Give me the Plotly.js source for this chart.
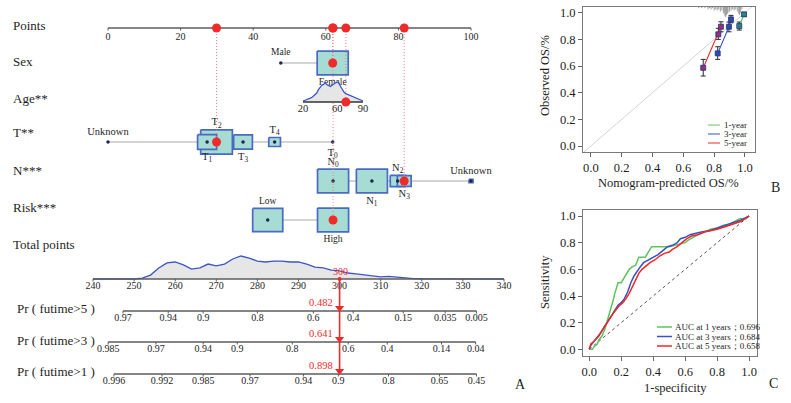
<!DOCTYPE html>
<html><head><meta charset="utf-8">
<script src="https://cdn.plot.ly/plotly-3.0.1.min.js"></script>
<style>html,body{margin:0;padding:0;background:#fff}</style>
</head><body><div id="chart" style="width:791px;height:403px"></div>
<script>
// ================= DATA =================
// Nomogram (panel A)
const pointsTicks = [0, 20, 40, 60, 80, 100];
const sexLabels = ['Male', 'Female'];
const sexPoints = [47.6, 61.9];
const sexRelFreq = [0, 0.96];
const ageTicks = [20, 60, 90];
const ageDensX = [20,25,28,31,34,36,38,40,42,44,46,48,50,52,54,56,58,60,62,64,66,68,70,72,75,78,81,84,87,90];
const ageDensY = [0.05,0.12,0.18,0.25,0.35,0.45,0.62,0.74,0.84,0.88,0.96,0.86,0.8,0.78,0.84,0.92,0.96,1.0,0.93,0.76,0.6,0.48,0.42,0.38,0.33,0.29,0.22,0.15,0.1,0.05];
const tLabels = ['Unknown', 'T<sub>1</sub>', 'T<sub>2</sub>', 'T<sub>3</sub>', 'T<sub>4</sub>', 'T<sub>0</sub>'];
const tPoints = [0, 27.3, 29.9, 37.2, 45.9, 61.9];
const tRelFreq = [0, 0.36, 1.0, 0.35, 0.136, 0];
const nLabels = ['N<sub>0</sub>', 'N<sub>1</sub>', 'N<sub>2</sub>', 'N<sub>3</sub>', 'Unknown'];
const nPoints = [62, 72.7, 79.8, 81.6, 100];
const nRelFreq = [0.96, 0.96, 0.22, 0.19, 0.016];
const riskLabels = ['Low', 'High'];
const riskPoints = [44, 62];
const riskRelFreq = [0.9, 0.96];
const totalTicks = [240, 250, 260, 270, 280, 290, 300, 310, 320, 330, 340];
const totalDensX = [240,250,252,254,256,258,260,262,264,266,268,270,272,274,276,278,280,282,284,286,288,290,292,294,296,298,300,302,304,306,308,310,312,314,316,318,320,325,330,340];
const totalDensY = [0,0,0.04,0.17,0.48,0.7,0.74,0.61,0.43,0.48,0.65,0.57,0.65,0.87,1.0,0.91,0.78,0.74,0.78,0.78,0.74,0.74,0.65,0.52,0.48,0.39,0.35,0.26,0.22,0.17,0.13,0.09,0.11,0.07,0.04,0.02,0.01,0.01,0,0];
const pr5Labels = ['0.97','0.94','0.9','0.8','0.6','0.4','0.15','0.035','0.005'];
const pr5Total  = [247.3, 258.3, 266.8, 280.0, 293.6, 303.3, 315.5, 325.7, 333.3];
const pr3Labels = ['0.985','0.97','0.94','0.9','0.8','0.6','0.4','0.14','0.04'];
const pr3Total  = [243.7, 255.3, 266.8, 275.1, 288.5, 302.1, 311.6, 324.8, 333.1];
const pr1Labels = ['0.996','0.992','0.985','0.97','0.94','0.9','0.8','0.65','0.45'];
const pr1Total  = [245.1, 256.8, 266.8, 278.2, 291.2, 299.7, 311.9, 324.3, 333.3];
// selected patient
const selSex = 1, selAge = 70, selT = 2, selN = 3, selRisk = 1;
const totalScore = 300;
const predProbs = ['0.482', '0.641', '0.898'];

// Calibration (panel B)
const calNames = ['1-year', '3-year', '5-year'];
const cal1X = [0.963, 0.994], cal1Y = [0.900, 0.988], cal1Hi = [0.930, 1.000], cal1Lo = [0.870, 0.972];
const cal3X = [0.823, 0.896, 0.909], cal3Y = [0.695, 0.895, 0.950], cal3Hi = [0.745, 0.930, 0.980], cal3Lo = [0.650, 0.857, 0.925];
const cal5X = [0.729, 0.827, 0.844], cal5Y = [0.587, 0.838, 0.895], cal5Hi = [0.650, 0.883, 0.932], cal5Lo = [0.525, 0.800, 0.857];
const riskX = [0.70,0.72,0.74,0.76,0.77,0.78,0.79,0.80,0.81,0.82,0.83,0.84,0.85,0.86,0.865,0.87,0.875,0.88,0.885,0.89,0.90,0.91,0.92,0.93,0.94,0.95,0.96,0.965,0.97,0.98];
const riskCount = [1,1,1,2,1,2,1,3,2,3,2,4,3,5,6,8,9,7,6,5,4,3,2,3,2,4,6,7,5,2];

// ROC (panel C)
const rocNames = ['AUC at 1 years；0.696', 'AUC at 3 years；0.684', 'AUC at 5 years；0.658'];
const roc1X = [0,0.02,0.03,0.05,0.06,0.08,0.10,0.11,0.12,0.13,0.14,0.15,0.16,0.17,0.18,0.20,0.21,0.23,0.24,0.25,0.27,0.29,0.30,0.31,0.35,0.37,0.39,0.50,0.53,0.56,0.60,0.62,0.65,0.68,0.72,0.76,0.80,0.84,0.88,0.91,0.94,0.98,1.0];
const roc1Y = [0,0,0.02,0.04,0.07,0.10,0.16,0.20,0.25,0.28,0.33,0.37,0.42,0.47,0.50,0.50,0.52,0.55,0.57,0.60,0.62,0.63,0.66,0.69,0.69,0.73,0.77,0.77,0.78,0.79,0.80,0.82,0.84,0.86,0.88,0.90,0.91,0.93,0.94,0.96,0.98,0.98,1.0];
const roc3X = [0,0.01,0.03,0.06,0.08,0.10,0.12,0.14,0.16,0.18,0.20,0.22,0.24,0.26,0.28,0.30,0.32,0.34,0.37,0.40,0.43,0.46,0.49,0.52,0.55,0.57,0.60,0.63,0.66,0.70,0.75,0.80,0.85,0.90,0.95,1.0];
const roc3Y = [0,0.03,0.06,0.10,0.14,0.18,0.22,0.26,0.30,0.33,0.35,0.38,0.43,0.50,0.55,0.59,0.62,0.65,0.67,0.69,0.71,0.74,0.77,0.78,0.80,0.83,0.84,0.86,0.87,0.88,0.89,0.91,0.93,0.95,0.97,1.0];
const roc5X = [0,0.01,0.03,0.05,0.07,0.09,0.11,0.13,0.15,0.17,0.19,0.21,0.23,0.25,0.27,0.29,0.31,0.33,0.36,0.38,0.41,0.44,0.47,0.50,0.52,0.55,0.58,0.61,0.64,0.68,0.72,0.76,0.80,0.85,0.90,0.95,1.0];
const roc5Y = [0,0.04,0.06,0.09,0.12,0.16,0.20,0.24,0.27,0.30,0.33,0.35,0.38,0.42,0.47,0.52,0.57,0.60,0.63,0.65,0.67,0.70,0.72,0.73,0.75,0.77,0.80,0.83,0.85,0.86,0.88,0.89,0.90,0.92,0.94,0.96,1.0];

// ================= LAYOUT / STYLE =================
const W = 791, H = 403;
const FONT = 'Liberation Serif, "Times New Roman", serif';
const TXT = '#1e1e1e';
const BOX_FILL = '#a6dcd3', BOX_LINE = '#4a6bc2', RED = '#f02a2a', GRAY = '#c6c6c6', AX = '#5c5c5c', NAVY = '#1d2550';
const GUIDE = '#f27a7a';
const DENS_LINE = '#3e55c4', DENS_FILL = '#e6e6e6';
const SER_COL = ['#5cc45c', '#3552c6', '#f02828'];
const MK_COL = ['#2c7f86', '#2e4aa8', '#93307e'];

// pixel anchors of the nomogram scales (layout)
const NOMO_PX = [0, 540];
const PTS_PX = [108, 471], TOT_PX = [93, 504], AGE_PX = [303, 363];
const ROW = {points: 28, sex: 63, age: 102, t: 142, n: 181, risk: 220, total: 279, pr5: 311, pr3: 342, pr1: 374};
const LAB_Y = {points: 25, sex: 61, age: 98, t: 132, n: 170, risk: 207, total: 244, pr5: 308, pr3: 340, pr1: 371};
const BOX_MAX_PX = 31.7, BOX_ASPECT = 0.77;
const LAB_GAP_ABOVE = 7, LAB_GAP_BELOW = 8;
const PX_PER_PT = (PTS_PX[1] - PTS_PX[0]) / (pointsTicks[pointsTicks.length-1] - pointsTicks[0]);

function axisRange(v0, v1, px) {
  const s = (v1 - v0) / (px[1] - px[0]);
  return [v0 - (px[0] - NOMO_PX[0]) * s, v0 + (NOMO_PX[1] - px[0]) * s];
}

const traces = [];
const annotations = [];
const shapes = [];
const base = {hoverinfo: 'skip', showlegend: false};

function line(xa, xs, ys, color, width, dash) {
  traces.push(Object.assign({}, base, {type: 'scatter', mode: 'lines', x: xs, y: ys, xaxis: xa, yaxis: 'y',
    line: {color: color, width: width, dash: dash || 'solid'}}));
}
function texts(xa, xs, ys, tx, size, color) {
  traces.push(Object.assign({}, base, {type: 'scatter', mode: 'text', x: xs, y: ys, text: tx, xaxis: xa, yaxis: 'y',
    textposition: 'middle center', cliponaxis: false, textfont: {family: FONT, size: size, color: color || TXT}}));
}
function dots(xa, xs, ys, color, size) {
  traces.push(Object.assign({}, base, {type: 'scatter', mode: 'markers', x: xs, y: ys, xaxis: xa, yaxis: 'y',
    cliponaxis: false, marker: {color: color, size: size, line: {width: 0}}}));
}
function scaleAxis(xa, vals, labels, y, labDy, size, lineW) {
  line(xa, [vals[0], vals[vals.length-1]], [y, y], AX, lineW || 1.4);
  const tx = [], ty = [];
  vals.forEach(v => { tx.push(v, v, null); ty.push(y, y + 2.5, null); });
  line(xa, tx, ty, AX, 1);
  texts(xa, vals, vals.map(() => y + labDy), labels, size);
}
function catRow(labels, pts, freq, sides, y) {
  line('x', [Math.min(...pts), Math.max(...pts)], [y, y], GRAY, 1.5);
  const order = pts.map((p, i) => i).sort((a, b) => freq[b] - freq[a]);
  order.forEach(i => {
    if (freq[i] <= 0) return;
    const wpx = BOX_MAX_PX * Math.sqrt(freq[i]);
    const hw = wpx / 2 / PX_PER_PT, hh = wpx * BOX_ASPECT / 2;
    const c = pts[i];
    traces.push(Object.assign({}, base, {type: 'scatter', mode: 'lines', xaxis: 'x', yaxis: 'y',
      x: [c - hw, c + hw, c + hw, c - hw, c - hw], y: [y - hh, y - hh, y + hh, y + hh, y - hh],
      fill: 'toself', fillcolor: BOX_FILL, line: {color: BOX_LINE, width: 1.7}}));
  });
  dots('x', pts, pts.map(() => y), NAVY, 3.5);
  const ly = pts.map((p, i) => {
    const hh = Math.max(BOX_MAX_PX * Math.sqrt(freq[i]) * BOX_ASPECT / 2, 3);
    return sides[i] === 'above' ? y - hh - LAB_GAP_ABOVE : y + hh + LAB_GAP_BELOW;
  });
  texts('x', pts, ly, labels, labels[0].indexOf('<sub>') >= 0 || labels[1].indexOf('<sub>') >= 0 ? 10.5 : 9.5);
}

// ---- Row labels ----
const rowNames = [['points','Points'],['sex','Sex'],['age','Age**'],['t','T**'],['n','N***'],['risk','Risk***'],['total','Total points']];
rowNames.forEach(([k, t]) => annotations.push({xref: 'paper', yref: 'y', x: 11 / W, y: LAB_Y[k], xanchor: 'left', yanchor: 'middle',
  text: t, showarrow: false, font: {family: FONT, size: 13, color: TXT}}));
[['pr5','Pr ( futime>5 )'],['pr3','Pr ( futime>3 )'],['pr1','Pr ( futime>1 )']].forEach(([k, t]) =>
  annotations.push({xref: 'paper', yref: 'y', x: 15 / W, y: LAB_Y[k], xanchor: 'left', yanchor: 'middle',
  text: t, showarrow: false, font: {family: FONT, size: 13, color: TXT}}));

// ---- Points axis ----
scaleAxis('x', pointsTicks, pointsTicks.map(String), ROW.points, 9, 10, 1.6);

// ---- Sex ----
catRow(sexLabels, sexPoints, sexRelFreq, ['above', 'below'], ROW.sex);

// ---- Age ----
(function () {
  const hScale = 20, yb = ROW.age;
  traces.push(Object.assign({}, base, {type: 'scatter', mode: 'lines', xaxis: 'x3', yaxis: 'y',
    x: ageDensX.concat([ageDensX[ageDensX.length-1], ageDensX[0]]),
    y: ageDensY.map(v => yb - v * hScale).concat([yb, yb]), fill: 'toself', fillcolor: DENS_FILL, line: {width: 0}}));
  line('x3', ageDensX, ageDensY.map(v => yb - v * hScale), DENS_LINE, 1.3);
  line('x3', [ageTicks[0], ageTicks[ageTicks.length-1]], [yb, yb], '#333', 1.5);
  texts('x3', ageTicks, ageTicks.map(() => yb + 7.5), ageTicks.map(String), 10.5);
})();

// ---- T, N, Risk ----
catRow(tLabels, tPoints, tRelFreq, ['above','below','above','below','above','below'], ROW.t);
catRow(nLabels, nPoints, nRelFreq, ['above','below','above','below','above'], ROW.n);
catRow(riskLabels, riskPoints, riskRelFreq, ['above','below'], ROW.risk);

// ---- Total points ----
(function () {
  const hScale = 23, yb = ROW.total;
  traces.push(Object.assign({}, base, {type: 'scatter', mode: 'lines', xaxis: 'x2', yaxis: 'y',
    x: totalDensX.concat([totalDensX[totalDensX.length-1], totalDensX[0]]),
    y: totalDensY.map(v => yb - v * hScale).concat([yb, yb]), fill: 'toself', fillcolor: DENS_FILL, line: {width: 0}}));
  line('x2', totalDensX, totalDensY.map(v => yb - v * hScale), DENS_LINE, 1.3);
})();
scaleAxis('x2', totalTicks, totalTicks.map(String), ROW.total, 7.5, 10, 1.4);

// ---- Probability axes ----
scaleAxis('x2', pr5Total, pr5Labels, ROW.pr5, 7.5, 10);
scaleAxis('x2', pr3Total, pr3Labels, ROW.pr3, 7.5, 10);
scaleAxis('x2', pr1Total, pr1Labels, ROW.pr1, 7.5, 10);

// ---- Selected patient: dotted guides and red dots ----
const selPts = [sexPoints[selSex], tPoints[selT], nPoints[selN], riskPoints[selRisk]];
const selRows = [ROW.sex, ROW.t, ROW.n, ROW.risk];
selPts.forEach((p, i) => line('x', [p, p], [ROW.points, selRows[i]], GUIDE, 0.9, '1px,2px'));
line('x3', [selAge, selAge], [ROW.points, ROW.age], GUIDE, 0.9, '1px,2px');
dots('x', selPts, selRows, RED, 9);
dots('x', selPts, selPts.map(() => ROW.points), RED, 9);
dots('x3', [selAge, selAge], [ROW.age, ROW.points], RED, 9);

// ---- Total score arrows ----
line('x2', [totalScore, totalScore], [ROW.total, ROW.pr1 - 2], RED, 1.6);
traces.push(Object.assign({}, base, {type: 'scatter', mode: 'markers', xaxis: 'x2', yaxis: 'y', cliponaxis: false,
  x: [totalScore, totalScore, totalScore], y: [ROW.pr5 - 3, ROW.pr3 - 3, ROW.pr1 - 3],
  marker: {symbol: 'triangle-down', color: RED, size: 8, line: {width: 0}}}));
dots('x2', [totalScore], [ROW.total], RED, 4);
annotations.push({xref: 'x2', yref: 'y', x: totalScore, y: ROW.total - 7.5, xshift: 1, text: String(totalScore), showarrow: false,
  font: {family: FONT, size: 10, color: RED}});
[ROW.pr5, ROW.pr3, ROW.pr1].forEach((r, i) => annotations.push({xref: 'x2', yref: 'y', x: totalScore, y: r - 9,
  xanchor: 'right', xshift: -5, text: predProbs[i], showarrow: false, font: {family: FONT, size: 10.5, color: RED}}));

// ================= Panel B: calibration =================
const xB = 'x4', yB = 'y4';
const B_YMAX = 1.043;
traces.push(Object.assign({}, base, {type: 'scatter', mode: 'lines', xaxis: xB, yaxis: yB, x: [-0.2, 1.2], y: [-0.2, 1.2],
  line: {color: '#d4d4d4', width: 1}}));
(function () {
  const xs = [], ys = [];
  riskX.forEach((x, i) => { xs.push(x, x, null); ys.push(B_YMAX, B_YMAX - riskCount[i] * 0.0085, null); });
  traces.push(Object.assign({}, base, {type: 'scatter', mode: 'lines', xaxis: xB, yaxis: yB, x: xs, y: ys,
    line: {color: '#9a9a9a', width: 1}}));
})();
[[cal1X, cal1Y, cal1Hi, cal1Lo], [cal3X, cal3Y, cal3Hi, cal3Lo], [cal5X, cal5Y, cal5Hi, cal5Lo]].forEach((s, k) => {
  traces.push(Object.assign({}, base, {type: 'scatter', mode: 'lines+markers', xaxis: xB, yaxis: yB,
    x: s[0], y: s[1], line: {color: SER_COL[k], width: 1.1},
    marker: {symbol: 'square', size: 5, color: MK_COL[k], line: {color: '#23357e', width: 0.8}},
    error_y: {type: 'data', symmetric: false, array: s[2].map((h, i) => h - s[1][i]), arrayminus: s[3].map((l, i) => s[1][i] - l),
      color: '#2a2a2a', thickness: 1, width: 2.5}}));
});
// legend B
calNames.forEach((n, k) => {
  const yy = 1 - (125 + 9 * k) / H;
  shapes.push({type: 'line', xref: 'paper', yref: 'paper', x0: 708 / W, x1: 720 / W, y0: yy, y1: yy, line: {color: SER_COL[k], width: 1}});
  annotations.push({xref: 'paper', yref: 'paper', x: 722 / W, y: yy, xanchor: 'left', yanchor: 'middle', text: n, showarrow: false,
    font: {family: FONT, size: 9, color: TXT}});
});

// ================= Panel C: ROC =================
const xC = 'x5', yC = 'y5';
traces.push(Object.assign({}, base, {type: 'scatter', mode: 'lines', xaxis: xC, yaxis: yC, x: [0, 1], y: [0, 1],
  line: {color: '#555', width: 1, dash: 'dot'}}));
[[roc1X, roc1Y], [roc3X, roc3Y], [roc5X, roc5Y]].forEach((s, k) => {
  traces.push(Object.assign({}, base, {type: 'scatter', mode: 'lines', xaxis: xC, yaxis: yC, x: s[0], y: s[1],
    line: {color: SER_COL[k], width: 1.5}}));
});
rocNames.forEach((n, k) => {
  const yy = 1 - (327 + 9.5 * k) / H;
  shapes.push({type: 'line', xref: 'paper', yref: 'paper', x0: 657 / W, x1: 672 / W, y0: yy, y1: yy, line: {color: SER_COL[k], width: 1.5}});
  annotations.push({xref: 'paper', yref: 'paper', x: 673 / W, y: yy, xanchor: 'left', yanchor: 'middle', text: n, showarrow: false,
    font: {family: FONT, size: 9, color: TXT}});
});

// axis titles & panel letters
function ann(x, y, t, size, angle) {
  annotations.push({xref: 'paper', yref: 'paper', x: x / W, y: 1 - y / H, xanchor: 'center', yanchor: 'middle', text: t,
    showarrow: false, textangle: angle || 0, font: {family: FONT, size: size, color: TXT}});
}
ann(668, 183, 'Nomogram-predicted OS/%', 12.5);
ann(545, 76, 'Observed OS/%', 12.5, -90);
ann(675, 388, '1-specificity', 12.5);
ann(545, 282, 'Sensitivity', 12.5, -90);
ann(520, 384, 'A', 14);
ann(775, 188, 'B', 14);
ann(773, 383, 'C', 14);

const unitTicks = [0, 0.2, 0.4, 0.6, 0.8, 1.0];
function frameAxis(dom, rng, anchor) {
  return {domain: dom, range: rng, anchor: anchor, tickvals: unitTicks, tickformat: '.1f', ticks: 'outside', ticklen: 4,
    tickcolor: '#666', tickwidth: 1, showline: true, mirror: true, linecolor: '#7a7a7a', linewidth: 1, showgrid: false,
    zeroline: false, automargin: false, fixedrange: true, tickfont: {family: FONT, size: 12.5, color: TXT}};
}

const layout = {
  width: W, height: H, margin: {l: 0, r: 0, t: 0, b: 0}, paper_bgcolor: '#fff', plot_bgcolor: 'rgba(0,0,0,0)',
  showlegend: false,
  xaxis: {domain: [NOMO_PX[0] / W, NOMO_PX[1] / W], range: axisRange(0, 100, PTS_PX), visible: false, anchor: 'y', fixedrange: true},
  xaxis2: {overlaying: 'x', range: axisRange(240, 340, TOT_PX), visible: false, anchor: 'y', fixedrange: true},
  xaxis3: {overlaying: 'x', range: axisRange(20, 90, AGE_PX), visible: false, anchor: 'y', fixedrange: true},
  yaxis: {domain: [0, 1], range: [H, 0], visible: false, anchor: 'x', fixedrange: true},
  xaxis4: frameAxis([583 / W, 755 / W], [-0.051, 1.065], 'y4'),
  yaxis4: frameAxis([1 - 152 / H, 1 - 7 / H], [-0.045, 1.043], 'x4'),
  xaxis5: frameAxis([583 / W, 757 / W], [-0.039, 1.049], 'y5'),
  yaxis5: frameAxis([1 - 356 / H, 1 - 210 / H], [-0.05, 1.045], 'x5'),
  annotations: annotations, shapes: shapes
};

Plotly.newPlot('chart', traces, layout, {displayModeBar: false, staticPlot: true});
</script></body></html>
